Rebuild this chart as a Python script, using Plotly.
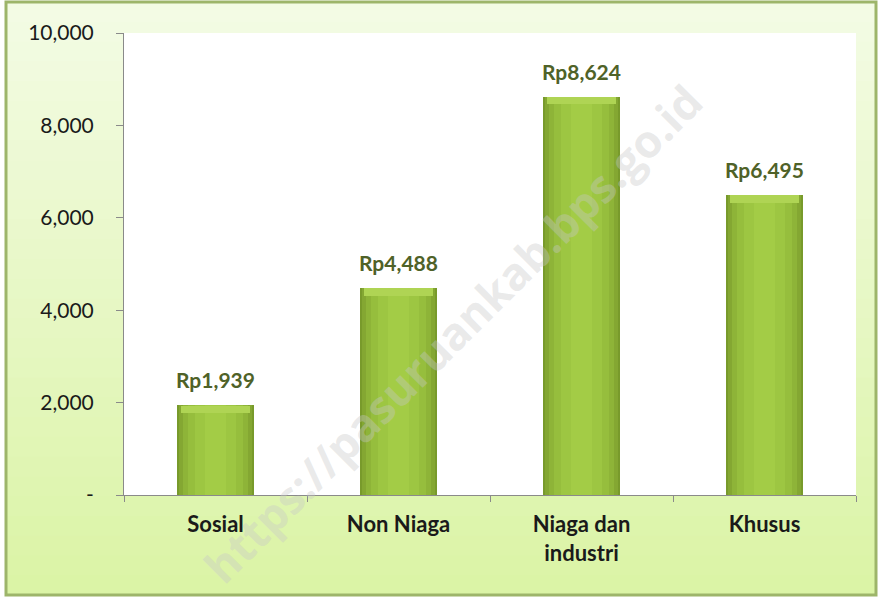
import plotly.graph_objects as go

categories = ["Sosial", "Non Niaga", "Niaga dan<br>industri", "Khusus"]
values = [1939, 4488, 8624, 6495]
value_labels = ["Rp1,939", "Rp4,488", "Rp8,624", "Rp6,495"]
y_tickvals = [0, 2000, 4000, 6000, 8000, 10000]
y_ticktext = ["-", "2,000", "4,000", "6,000", "8,000", "10,000"]

W, H = 881, 598
L, R, T, B = 124, 25, 33, 103
pw, ph = W - L - R, H - T - B

def px_x(x):
    return (x - L) / pw

def px_y(y):
    return (H - B - y) / ph

fig = go.Figure()

# bar layers for horizontal gradient
layers = [
    (0.42, "#789a2b"),
    (0.40, "#84a732"),
    (0.36, "#8eb438"),
    (0.30, "#96be3d"),
    (0.22, "#9dc642"),
    (0.12, "#a3cc46"),
]
for w, c in layers:
    fig.add_trace(go.Bar(x=categories, y=values, width=w, marker=dict(color=c, line=dict(width=0)),
                         hoverinfo="skip", showlegend=False))
# top bevel (lighter cap)
bevel = 160
fig.add_trace(go.Bar(x=categories, y=[bevel] * len(values), base=[v - bevel - 10 for v in values], width=0.38,
                     marker=dict(color="#afd454", line=dict(width=0)), hoverinfo="skip", showlegend=False))

shapes = []
# background gradient bands
top_c = (0xF3, 0xFB, 0xE4)
bot_c = (0xDB, 0xF4, 0xA6)
x0p, x1p = px_x(6), px_x(876)
n = 30
for i in range(n):
    t = i / (n - 1)
    c = tuple(int(round(top_c[k] + (bot_c[k] - top_c[k]) * t)) for k in range(3))
    ya = 2 + (595 - 2) * i / n
    yb = 2 + (595 - 2) * (i + 1) / n + 1
    shapes.append(dict(type="rect", xref="paper", yref="paper", x0=x0p, x1=x1p,
                       y0=px_y(ya), y1=px_y(yb), fillcolor="rgb(%d,%d,%d)" % c,
                       line=dict(width=0), layer="below"))
# white plot area
shapes.append(dict(type="rect", xref="paper", yref="paper", x0=0, x1=1, y0=0, y1=1,
                   fillcolor="white", line=dict(width=0), layer="below"))
# outer border
shapes.append(dict(type="rect", xref="paper", yref="paper", x0=px_x(6), x1=px_x(876),
                   y0=px_y(2), y1=px_y(595), line=dict(color="#9db56a", width=3),
                   fillcolor="rgba(0,0,0,0)", layer="above"))

annotations = []
for cat, v, lab in zip(categories, values, value_labels):
    annotations.append(dict(x=cat, y=v, text="<b>%s</b>" % lab, showarrow=False, yanchor="bottom",
                            yshift=11, font=dict(family="Lato", size=21, color="#4f6228")))
annotations.append(dict(xref="paper", yref="paper", x=px_x(452), y=px_y(333),
                        text="<b>https://pasuruankab.bps.go.id</b>", showarrow=False, textangle=-45,
                        font=dict(family="Open Sans", size=45, color="rgba(200,200,200,0.40)")))

fig.update_layout(
    width=W, height=H,
    margin=dict(l=L, r=R, t=T, b=B),
    paper_bgcolor="white",
    plot_bgcolor="white",
    barmode="overlay",
    bargap=0,
    shapes=shapes,
    annotations=annotations,
    font=dict(family="Lato", color="#1a1a1a"),
    xaxis=dict(
        type="category",
        tickvals=categories,
        ticktext=["<b>%s</b>" % c for c in categories],
        tickson="boundaries",
        ticks="outside", ticklen=6, tickcolor="#8a8a8a",
        showline=True, linecolor="#8a8a8a", linewidth=1,
        showgrid=False, range=[-0.5, 3.5],
        tickfont=dict(family="Lato", size=22, color="#1a1a1a"),
        ticklabelstandoff=10,
    ),
    yaxis=dict(
        range=[0, 10000],
        tickvals=y_tickvals, ticktext=y_ticktext,
        ticks="outside", ticklen=7, tickcolor="#8a8a8a",
        showline=True, linecolor="#8a8a8a", linewidth=1,
        showgrid=False, zeroline=False,
        tickfont=dict(family="Lato", size=21, color="#1a1a1a"),
        ticklabelstandoff=18,
    ),
)

fig.write_html("out.html", config={"displayModeBar": False},
               post_script="document.body.style.margin='0';document.body.style.padding='0';")
